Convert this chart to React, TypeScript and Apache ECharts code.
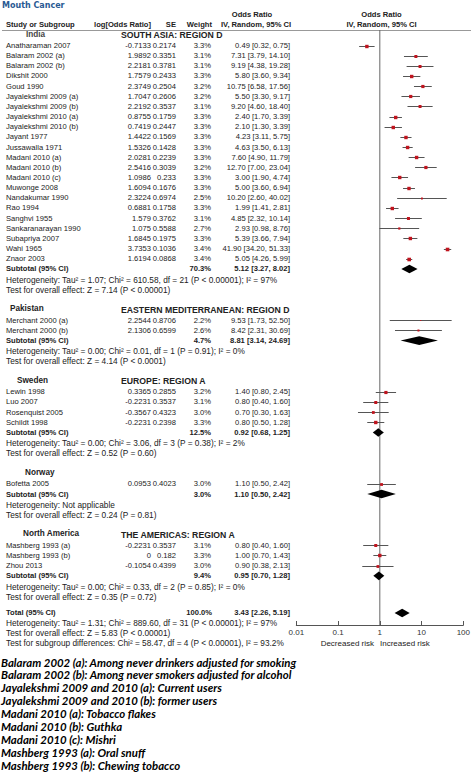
import React, { useEffect, useRef } from "react";
import * as echarts from "echarts";

// ---------- data ----------
const studyNames = [
  "Anatharaman 2007", "Balaram 2002 (a)", "Balaram 2002 (b)", "Dikshit 2000", "Goud 1990",
  "Jayalekshmi 2009 (a)", "Jayalekshmi 2009 (b)", "Jayalekshmi 2010 (a)", "Jayalekshmi 2010 (b)",
  "Jayant 1977", "Jussawalla 1971", "Madani 2010 (a)", "Madani 2010 (b)", "Madani 2010 (c)",
  "Muwonge 2008", "Nandakumar 1990", "Rao 1994", "Sanghvi 1955", "Sankaranarayan 1990",
  "Subapriya 2007", "Wahi 1965", "Znaor 2003",
  "Merchant 2000 (a)", "Merchant 2000 (b)",
  "Lewin 1998", "Luo 2007", "Rosenquist 2005", "Schildt 1998",
  "Bofetta 2005",
  "Mashberg 1993 (a)", "Mashberg 1993 (b)", "Zhou 2013",
];
const studyGroup = [
  0, 0, 0, 0, 0, 0, 0, 0, 0, 0, 0, 0, 0, 0, 0, 0, 0, 0, 0, 0, 0, 0,
  1, 1,
  2, 2, 2, 2,
  3,
  4, 4, 4,
];
const logOddsRatio = [
  -0.7133, 1.9892, 2.2181, 1.7579, 2.3749, 1.7047, 2.2192, 0.8755, 0.7419, 1.4422, 1.5326,
  2.0281, 2.5416, 1.0986, 1.6094, 2.3224, 0.6881, 1.579, 1.075, 1.6845, 3.7353, 1.6194,
  2.2544, 2.1306,
  0.3365, -0.2231, -0.3567, -0.2231,
  0.0953,
  -0.2231, 0, -0.1054,
];
const standardError = [
  0.2174, 0.3351, 0.3781, 0.2433, 0.2504, 0.2606, 0.3537, 0.1759, 0.2447, 0.1569, 0.1428,
  0.2239, 0.3039, 0.233, 0.1676, 0.6974, 0.1758, 0.3762, 0.5588, 0.1975, 0.1036, 0.0868,
  0.8706, 0.6599,
  0.2855, 0.3537, 0.4323, 0.2398,
  0.4023,
  0.3537, 0.182, 0.4399,
];
const studyWeight = [
  3.3, 3.1, 3.1, 3.3, 3.2, 3.2, 3.1, 3.3, 3.3, 3.3, 3.3, 3.3, 3.2, 3.3, 3.3, 2.5, 3.3, 3.1, 2.7, 3.3, 3.4, 3.4,
  2.2, 2.6,
  3.2, 3.1, 3.0, 3.3,
  3.0,
  3.1, 3.3, 3.0,
];
const studyOR = [
  0.49, 7.31, 9.19, 5.8, 10.75, 5.5, 9.2, 2.4, 2.1, 4.23, 4.63, 7.6, 12.7, 3.0, 5.0, 10.2, 1.99, 4.85, 2.93, 5.39, 41.9, 5.05,
  9.53, 8.42,
  1.4, 0.8, 0.7, 0.8,
  1.1,
  0.8, 1.0, 0.9,
];
const studyLow = [
  0.32, 3.79, 4.38, 3.6, 6.58, 3.3, 4.6, 1.7, 1.3, 3.11, 3.5, 4.9, 7.0, 1.9, 3.6, 2.6, 1.41, 2.32, 0.98, 3.66, 34.2, 4.26,
  1.73, 2.31,
  0.8, 0.4, 0.3, 0.5,
  0.5,
  0.4, 0.7, 0.38,
];
const studyHigh = [
  0.75, 14.1, 19.28, 9.34, 17.56, 9.17, 18.4, 3.39, 3.39, 5.75, 6.13, 11.79, 23.04, 4.74, 6.94, 40.02, 2.81, 10.14, 8.76, 7.94, 51.33, 5.99,
  52.5, 30.69,
  2.45, 1.6, 1.63, 1.28,
  2.42,
  1.6, 1.43, 2.13,
];

const groupCountries = ["India", "Pakistan", "Sweden", "Norway", "North America"];
const groupRegions = [
  "SOUTH ASIA: REGION D",
  "EASTERN MEDITERRANEAN: REGION D",
  "EUROPE: REGION A",
  "",
  "THE AMERICAS: REGION A",
];
const groupWeight = [70.3, 4.7, 12.5, 3.0, 9.4];
const groupOR = [5.12, 8.81, 0.92, 1.1, 0.95];
const groupLow = [3.27, 3.14, 0.68, 0.5, 0.7];
const groupHigh = [8.02, 24.69, 1.25, 2.42, 1.28];
const groupHeterogeneity = [
  "Heterogeneity: Tau² = 1.07; Chi² = 610.58, df = 21 (P < 0.00001); I² = 97%",
  "Heterogeneity: Tau² = 0.00; Chi² = 0.01, df = 1 (P = 0.91); I² = 0%",
  "Heterogeneity: Tau² = 0.00; Chi² = 3.06, df = 3 (P = 0.38); I² = 2%",
  "Heterogeneity: Not applicable",
  "Heterogeneity: Tau² = 0.00; Chi² = 0.33, df = 2 (P = 0.85); I² = 0%",
];
const groupEffect = [
  "Test for overall effect: Z = 7.14 (P < 0.00001)",
  "Test for overall effect: Z = 4.14 (P < 0.0001)",
  "Test for overall effect: Z = 0.52 (P = 0.60)",
  "Test for overall effect: Z = 0.24 (P = 0.81)",
  "Test for overall effect: Z = 0.35 (P = 0.72)",
];

const totalWeight = 100.0;
const totalOR = 3.43;
const totalLow = 2.26;
const totalHigh = 5.19;
const totalLines = [
  "Heterogeneity: Tau² = 1.31; Chi² = 889.60, df = 31 (P < 0.00001); I² = 97%",
  "Test for overall effect: Z = 5.83 (P < 0.00001)",
  "Test for subgroup differences: Chi² = 58.47, df = 4 (P < 0.00001), I² = 93.2%",
];

const axisMin = 0.01;
const axisMax = 100;

const footnotes = [
  "Balaram 2002 (a): Among never drinkers adjusted for smoking",
  "Balaram 2002 (b): Among never smokers adjusted for alcohol",
  "Jayalekshmi 2009 and 2010 (a): Current users",
  "Jayalekshmi 2009 and 2010 (b): former users",
  "Madani 2010 (a): Tobacco flakes",
  "Madani 2010 (b): Guthka",
  "Madani 2010 (c): Mishri",
  "Mashberg 1993 (a): Oral snuff",
  "Mashberg 1993 (b): Chewing tobacco",
];

// ---------- layout ----------
const W = 473;
const H = 778;
const FONT = '"Liberation Sans", Arial, sans-serif';
const FS = 7.6;
const FS_NOTE = 8.3;
const GRID_TOP = 30;
const GRID_BOTTOM = 625;
const PLOT_LEFT = 296.3;
const PLOT_RIGHT = 466.7;

const COL_NAME = 6;
const COL_LOG = 151;
const COL_SE = 176;
const COL_W = 211;
const COL_CI = 290;

type Txt = {
  text: string; x: number; y: number; size?: number; bold?: boolean; italic?: boolean;
  align?: string; color?: string; family?: string;
};
const mk = (t: Txt) => ({
  type: "text",
  silent: true,
  x: t.x,
  y: t.y,
  style: {
    text: t.text,
    fill: t.color || "#222",
    fontSize: t.size || FS,
    fontWeight: t.bold ? "bold" : "normal",
    fontStyle: t.italic ? "italic" : "normal",
    fontFamily: t.family || FONT,
    textAlign: t.align || "left",
    align: t.align || "left",
    textVerticalAlign: "middle",
    verticalAlign: "middle",
  },
});

const ciText = (o: number, l: number, h: number) => `${o.toFixed(2)} [${l.toFixed(2)}, ${h.toFixed(2)}]`;

function buildLayout() {
  const texts: any[] = [];
  const marks: any[] = [];
  const countryX = [26, 10, 17, 25, 23];
  let y = 34;
  for (let g = 0; g < groupCountries.length; g++) {
    texts.push(mk({ text: groupCountries[g], x: countryX[g], y, bold: true, size: 8.2, color: g === 0 ? "#444" : "#222" }));
    if (groupRegions[g]) texts.push(mk({ text: groupRegions[g], x: 121, y: y + 1, bold: true, size: 8.7 }));
    y += 11.5;
    let first = true;
    for (let i = 0; i < studyNames.length; i++) {
      if (studyGroup[i] !== g) continue;
      if (!first) y += 10.15;
      first = false;
      texts.push(mk({ text: studyNames[i], x: COL_NAME, y }));
      texts.push(mk({ text: String(logOddsRatio[i]), x: COL_LOG, y, align: "right" }));
      texts.push(mk({ text: String(standardError[i]), x: COL_SE, y, align: "right" }));
      texts.push(mk({ text: studyWeight[i].toFixed(1) + "%", x: COL_W, y, align: "right" }));
      texts.push(mk({ text: ciText(studyOR[i], studyLow[i], studyHigh[i]), x: COL_CI, y, align: "right" }));
      marks.push([studyOR[i], studyLow[i], studyHigh[i], studyWeight[i], y, 0]);
    }
    y += 10.3;
    texts.push(mk({ text: "Subtotal (95% CI)", x: COL_NAME, y, bold: true }));
    texts.push(mk({ text: groupWeight[g].toFixed(1) + "%", x: COL_W, y, align: "right", bold: true }));
    texts.push(mk({ text: ciText(groupOR[g], groupLow[g], groupHigh[g]), x: COL_CI, y, align: "right", bold: true }));
    marks.push([groupOR[g], groupLow[g], groupHigh[g], groupWeight[g], y, 1]);
    y += 10.7;
    texts.push(mk({ text: groupHeterogeneity[g], x: COL_NAME, y, size: FS_NOTE }));
    y += 10;
    texts.push(mk({ text: groupEffect[g], x: COL_NAME, y, size: FS_NOTE }));
    y += 19;
  }
  // totals
  y = 612;
  texts.push(mk({ text: "Total (95% CI)", x: COL_NAME, y, bold: true }));
  texts.push(mk({ text: totalWeight.toFixed(1) + "%", x: COL_W + 1, y, align: "right", bold: true }));
  texts.push(mk({ text: ciText(totalOR, totalLow, totalHigh), x: COL_CI, y, align: "right", bold: true }));
  marks.push([totalOR, totalLow, totalHigh, totalWeight, y + 1, 1]);
  totalLines.forEach((s, k) => texts.push(mk({ text: s, x: COL_NAME, y: y + 10.5 + k * 10, size: FS_NOTE })));
  return { texts, marks };
}

export default function App() {
  const ref = useRef<HTMLDivElement>(null);
  useEffect(() => {
    if (!ref.current) return;
    const chart = echarts.init(ref.current, undefined, { renderer: "svg" });
    const { texts, marks } = buildLayout();

    const header = [
      mk({ text: "Mouth Cancer", x: 2, y: 5, bold: true, size: 8, color: "#2a5a93", family: '"DejaVu Sans", Verdana, sans-serif' }),
      mk({ text: "Study or Subgroup", x: COL_NAME, y: 24, bold: true }),
      mk({ text: "log[Odds Ratio]", x: COL_LOG, y: 24, bold: true, align: "right" }),
      mk({ text: "SE", x: COL_SE, y: 24, bold: true, align: "right" }),
      mk({ text: "Weight", x: COL_W + 1, y: 24, bold: true, align: "right" }),
      mk({ text: "Odds Ratio", x: 252, y: 14, bold: true, align: "center" }),
      mk({ text: "IV, Random, 95% CI", x: 256, y: 24, bold: true, align: "center" }),
      mk({ text: "Odds Ratio", x: 381.5, y: 14, bold: true, align: "center" }),
      mk({ text: "IV, Random, 95% CI", x: 381.5, y: 24, bold: true, align: "center" }),
      mk({ text: "Decreased risk", x: 374, y: 643, align: "right", size: 8 }),
      mk({ text: "Increased risk", x: 380, y: 643, size: 8 }),
    ];
    const notes = footnotes.map((s, k) =>
      mk({ text: s, x: 1, y: 662 + k * 12.9, bold: true, italic: true, size: 11.4, color: "#000", family: 'Lato, "Open Sans", sans-serif' })
    );

    chart.setOption({
      animation: false,
      grid: { left: PLOT_LEFT, width: PLOT_RIGHT - PLOT_LEFT, top: GRID_TOP, height: GRID_BOTTOM - GRID_TOP, containLabel: false },
      xAxis: {
        type: "log",
        logBase: 10,
        min: axisMin,
        max: axisMax,
        splitLine: { show: false },
        axisLine: { show: true, lineStyle: { color: "#555", width: 1 } },
        axisTick: { show: true, inside: true, length: 4, lineStyle: { color: "#555" } },
        axisLabel: {
          fontSize: 8,
          fontFamily: FONT,
          color: "#333",
          margin: 3,
          formatter: (v: number) => String(Number(v.toPrecision(6))),
        },
      },
      yAxis: { type: "value", min: GRID_TOP, max: GRID_BOTTOM, inverse: true, show: false },
      graphic: [
        { type: "line", silent: true, shape: { x1: 2, y1: 30.5, x2: 471, y2: 30.5 }, style: { stroke: "#999", lineWidth: 1 } },
        ...header,
        ...texts,
        ...notes,
      ],
      series: [
        {
          type: "line",
          data: [[1, GRID_TOP], [1, GRID_BOTTOM]],
          symbol: "none",
          silent: true,
          z: 1,
          lineStyle: { color: "#666", width: 1 },
        },
        {
          type: "custom",
          z: 3,
          silent: true,
          encode: { x: [0, 1, 2], y: 4 },
          data: marks,
          renderItem: (params: any, api: any) => {
            const kind = api.value(5);
            const yv = api.value(4);
            const pO = api.coord([api.value(0), yv]);
            const pL = api.coord([api.value(1), yv]);
            const pH = api.coord([api.value(2), yv]);
            if (kind === 0) {
              const w = api.value(3);
              const s = Math.max(1.2, (w - 1.6) * 2);
              const yy = Math.round(pO[1]) + 0.5;
              return {
                type: "group",
                children: [
                  { type: "line", shape: { x1: pL[0], y1: yy, x2: pH[0], y2: yy }, style: { stroke: "#555", lineWidth: 1 } },
                  { type: "rect", shape: { x: pO[0] - s / 2, y: yy - s / 2, width: s, height: s }, style: { fill: "#c0141e" } },
                ],
              };
            }
            const hh = 4.3;
            return {
              type: "polygon",
              shape: { points: [[pL[0], pO[1]], [pO[0], pO[1] - hh], [pH[0], pO[1]], [pO[0], pO[1] + hh]] },
              style: { fill: "#000" },
            };
          },
        },
      ],
    });
    return () => chart.dispose();
  }, []);
  return <div ref={ref} style={{ position: "fixed", left: 0, top: 0, width: W, height: H, background: "#fff" }} />;
}
